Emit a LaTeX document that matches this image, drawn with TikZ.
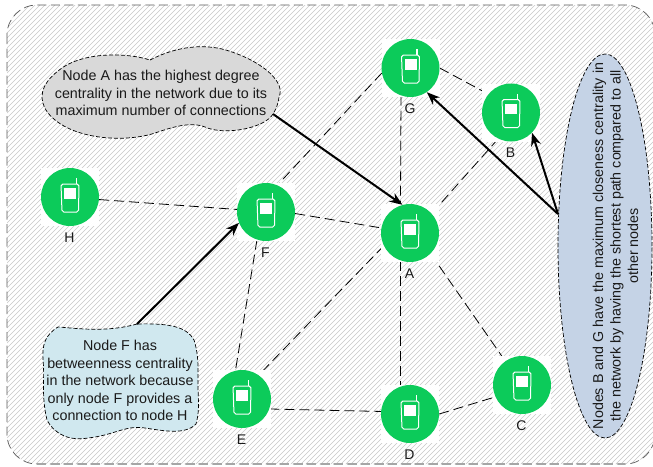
\documentclass[tikz,border=0pt]{standalone}
\usepackage{fontspec}
\setmainfont{Liberation Sans}
\usetikzlibrary{arrows.meta,shapes.geometric}
\pgfdeclarelayer{hatch}
\pgfdeclarelayer{edges}
\pgfsetlayers{hatch,edges,main}
\definecolor{netgreen}{HTML}{0CCB5A}
\definecolor{txt}{HTML}{1A1A1A}
\definecolor{bluecloud}{HTML}{D0E8EF}
\definecolor{blueell}{HTML}{C5D3E6}
\tikzset{
  x=1pt,y=-1pt,
  every node/.style={text=txt,font=\fontsize{14.3}{17.4}\selectfont,inner sep=0pt,align=center},
  netnode/.style={circle,fill=netgreen,minimum size=58pt},
  netedge/.style={draw=black,line width=0.8pt,dash pattern=on 10pt off 5pt},
  pointer/.style={draw=black,line width=2pt,-{Stealth[length=13pt,width=10pt]}},
  note/.style={draw=black,line width=0.7pt,dash pattern=on 4pt off 2pt},
  nodelabel/.style={font=\fontsize{14}{14}\selectfont},
}
\newcommand{\phonenode}[4]{%
  \fill[white] (#2-29,#3-29) rectangle (#2+29,#3+29);
  \node[netnode] (#1) at (#2,#3) {};
  \begin{scope}[shift={(#2,#3)}]
    \fill[white] (-6,-9) rectangle (6,1.5);
    \draw[white,line width=1pt,rounded corners=1.8pt] (-9,-13) -- (9,-13) -- (8.5,15) -- (-8,15) -- cycle;
    \draw[white,line width=1.2pt] (6.5,-13) -- (6.5,-19);
  \end{scope}
  \node[nodelabel] at (#2-0.5,#3+40.5) {#4};
}
\begin{document}
\begin{tikzpicture}
\useasboundingbox (0,0) rectangle (653,466);
\begin{pgfonlayer}{hatch}
  \fill[white] (0,0) rectangle (653,466);
  \begin{scope}
    \clip[rounded corners=30pt] (7,5) rectangle (655,464);
    \foreach \k in {-480,-475,...,660} {
      \draw[black!22,line width=0.6pt] (\k,470) -- (\k+470,0);
    }
  \end{scope}
  \draw[black!65,line width=0.7pt,dash pattern=on 9pt off 4.5pt,rounded corners=30pt] (7,5) rectangle (655,464);
  \draw[black!35,line width=1.6pt,dash pattern=on 9pt off 4.5pt] (37,464) -- (625,464);
\end{pgfonlayer}

\phonenode{G}{410.5}{68}{G}
\phonenode{B}{511}{112.5}{B}
\phonenode{H}{70}{197}{H}
\phonenode{F}{266}{212}{F}
\phonenode{A}{410}{233}{A}
\phonenode{E}{242}{399}{E}
\phonenode{D}{410}{414}{D}
\phonenode{C}{522}{385}{C}

\begin{pgfonlayer}{edges}
  \draw[netedge] (G.0) -- (B.141);
  \draw[netedge] (G.251) -- (A.109);
  \draw[netedge] (G.190) -- (F.67);
  \draw[netedge] (B.244) -- (A.42);
  \draw[netedge] (H.-5) -- (F.175);
  \draw[netedge] (F.-3) -- (A.170);
  \draw[netedge] (F.252) -- (E.103);
  \draw[netedge] (A.206) -- (E.55);
  \draw[netedge] (A.251) -- (D.109);
  \draw[netedge] (A.-45) -- (C.125);
  \draw[netedge] (E.-20) -- (D.175);
  \draw[netedge] (D.0) -- (C.204);
\end{pgfonlayer}

% cloud: degree centrality
\draw[note,fill=black!15] (150,60)
  .. controls (175,47) and (205,42) .. (232,52)
  .. controls (262,62) and (286,82) .. (279,97)
  .. controls (278,105) and (276,109) .. (273,114)
  .. controls (265,128) and (225,136) .. (205,127)
  .. controls (190,121) and (170,128) .. (155,133)
  .. controls (125,143) and (70,140) .. (48,113)
  .. controls (38,100) and (40,85) .. (58,71)
  .. controls (80,52) and (125,52) .. (150,60) -- cycle;
\node (degree) at (161,93) {Node A has the highest degree\\centrality in the network due to its\\maximum number of connections};
\coordinate (degreeTail) at (273,114);

% cloud: betweenness
\draw[note,fill=bluecloud] (137,324)
  .. controls (105,333) and (75,328) .. (58,327)
  .. controls (45,335) and (42,345) .. (43,360)
  .. controls (45,378) and (41,395) .. (47,420)
  .. controls (55,435) and (70,441) .. (88,438)
  .. controls (115,435) and (125,425) .. (145,428)
  .. controls (165,431) and (185,435) .. (196,424)
  .. controls (200,410) and (198,400) .. (198,385)
  .. controls (198,370) and (199,355) .. (194,340)
  .. controls (187,327) and (170,323) .. (137,324) -- cycle;
\node (between) at (120,380.5) {Node F has\\betweenness centrality\\in the network because\\only node F provides a\\connection to node H};
\coordinate (betweenTail) at (137,324);

% ellipse: closeness
\node[ellipse,note,fill=blueell,minimum width=94pt,minimum height=384pt] (closeness) at (605,246) {};
\node[rotate=90] at (615.5,246) {Nodes B and G have the maximum closeness centrality in\\the network by having the shortest path compared to all\\other nodes};
\coordinate (closeTail) at (558,214);

\draw[pointer] (degreeTail) -- (A.105);
\draw[pointer] (betweenTail) -- (F.202);
\draw[pointer] (closeTail) -- (G.-56);
\draw[pointer] (closeTail) -- (B.-44);
\end{tikzpicture}
\end{document}
